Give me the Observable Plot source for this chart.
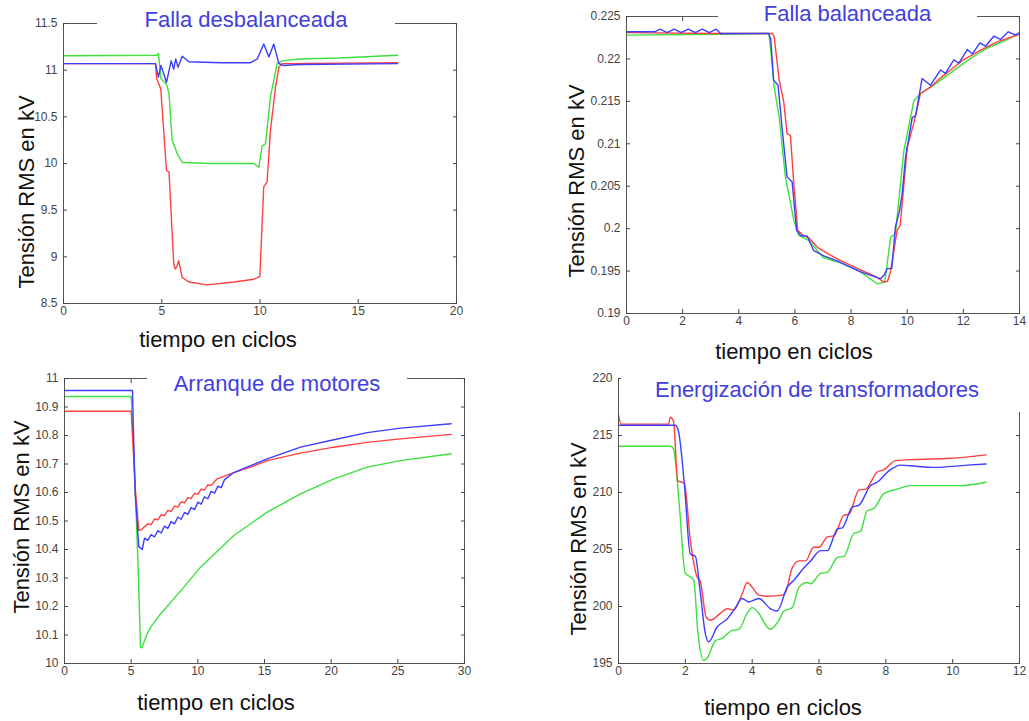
<!DOCTYPE html>
<html><head><meta charset="utf-8">
<script src="https://cdn.jsdelivr.net/npm/d3@7"></script>
<script src="https://cdn.jsdelivr.net/npm/@observablehq/plot@0.6"></script>
<style>
body{margin:0;background:#fff;}
#root{position:relative;width:1029px;height:721px;overflow:hidden;font-family:"Liberation Sans",Arial,sans-serif;background:#fff;}
.panel{position:absolute;}
.title{position:absolute;background:#fff;color:#4040dc;font-size:22px;text-align:center;white-space:nowrap;}
.xlab{position:absolute;font-size:22px;color:#111;transform:translate(-50%,-50%);white-space:nowrap;}
.ylab{position:absolute;font-size:22px;color:#111;transform:translate(-50%,-50%) rotate(-90deg);white-space:nowrap;}
</style></head><body><div id="root"></div>
<script>
// ---------- shared texts ----------
const xLabelText = "tiempo en ciclos";
const yLabelText = "Tensión RMS en kV";
const titles = ["Falla desbalanceada", "Falla balanceada", "Arranque de motores", "Energización de transformadores"];
const seriesColors = {green: "#3de03d", red: "#ff4040", blue: "#3d3dff"};

// ---------- panel 1: Falla desbalanceada ----------
const p1XTicks = [0, 5, 10, 15, 20];
const p1YTicks = [8.5, 9, 9.5, 10, 10.5, 11, 11.5];
const p1Green = [[0,11.155],[4.74,11.16],[4.83,11.18],[4.96,10.91],[5.24,10.85],[5.37,10.75],[5.53,10.25],[5.8,10.10],[6.04,10.01],[7.5,10.0],[9.69,10.0],[9.94,9.96],[10.11,10.19],[10.28,10.21],[10.53,10.71],[10.7,10.89],[10.87,11.07],[11.12,11.10],[12,11.12],[14,11.13],[17,11.16]];
const p1Red = [[0,11.07],[4.68,11.07],[4.74,10.91],[4.95,10.80],[5.15,10.2],[5.24,9.925],[5.37,9.91],[5.61,8.925],[5.69,8.87],[5.78,8.9],[5.86,8.96],[6.04,8.78],[6.38,8.73],[7.31,8.70],[8.67,8.73],[9.69,8.76],[9.99,8.79],[10.19,9.75],[10.36,9.80],[10.53,10.35],[10.79,10.82],[10.96,11.03],[11.12,11.07],[17,11.08]];
const p1Blue = [[0,11.07],[4.68,11.07],[4.83,10.925],[4.96,11.05],[5.24,10.87],[5.48,11.10],[5.61,11.01],[5.71,11.12],[5.83,11.03],[6.04,11.15],[6.38,11.09],[8,11.08],[9.52,11.08],[9.86,11.12],[10.19,11.28],[10.45,11.14],[10.7,11.28],[10.96,11.07],[11.2,11.05],[12,11.06],[17,11.07]];

// ---------- panel 2: Falla balanceada ----------
const p2XTicks = [0, 2, 4, 6, 8, 10, 12, 14];
const p2YTicks = [0.19, 0.195, 0.2, 0.205, 0.21, 0.215, 0.22, 0.225];
const p2Green = [[0,0.2228],[3.35,0.2229],[5.07,0.2230],[5.14,0.2210],[5.26,0.2167],[5.44,0.2131],[5.66,0.2061],[5.96,0.2010],[6.14,0.1992],[6.5,0.1986],[7.0,0.1966],[7.6,0.1960],[8.3,0.1950],[8.93,0.1935],[9.2,0.1937],[9.41,0.1990],[9.58,0.1994],[9.88,0.2092],[10.24,0.2151],[10.5,0.2160],[10.9,0.2168],[11.4,0.2180],[12.14,0.2198],[12.8,0.2212],[13.5,0.2222],[14,0.2230]];
const p2Red = [[0,0.2231],[3.35,0.2230],[5.2,0.2230],[5.26,0.2226],[5.44,0.2175],[5.6,0.2150],[5.72,0.2112],[5.84,0.2110],[5.96,0.2053],[6.1,0.1998],[6.3,0.1992],[6.5,0.1989],[6.8,0.1978],[7.2,0.1970],[7.6,0.1963],[8.3,0.1952],[8.9,0.1943],[9.17,0.1937],[9.3,0.1938],[9.41,0.1950],[9.64,0.1998],[9.75,0.2004],[9.85,0.2040],[10.0,0.2096],[10.24,0.2125],[10.47,0.2159],[10.83,0.2167],[11.2,0.2178],[12,0.2199],[12.6,0.2210],[13.2,0.2220],[14,0.2229]];
const p2Blue = [[0,0.2232],[1,0.2232],[1.2,0.2235],[1.45,0.2231],[1.7,0.2235],[1.95,0.2231],[2.2,0.2235],[2.45,0.2231],[2.7,0.2235],[2.95,0.2231],[3.2,0.2235],[3.35,0.2230],[5.07,0.2230],[5.14,0.2223],[5.24,0.2175],[5.4,0.2169],[5.55,0.2116],[5.72,0.2061],[5.9,0.2055],[6.06,0.1998],[6.2,0.1992],[6.44,0.1991],[6.67,0.1974],[7.03,0.1968],[7.5,0.1962],[8.34,0.1949],[9.05,0.1941],[9.17,0.1945],[9.29,0.1953],[9.45,0.1953],[9.58,0.2002],[9.72,0.2020],[9.82,0.2041],[9.94,0.2084],[10.18,0.2131],[10.3,0.2133],[10.53,0.2177],[10.83,0.2169],[11.19,0.2187],[11.36,0.2183],[11.66,0.2199],[11.84,0.2195],[12.14,0.2211],[12.32,0.2206],[12.59,0.2219],[12.79,0.2215],[13.09,0.2227],[13.32,0.2223],[13.6,0.2232],[13.86,0.2228],[14,0.2231]];

// ---------- panel 3: Arranque de motores ----------
const p3XTicks = [0, 5, 10, 15, 20, 25, 30];
const p3YTicks = [10, 10.1, 10.2, 10.3, 10.4, 10.5, 10.6, 10.7, 10.8, 10.9, 11];
const p3Green = [[0,10.937],[5.0,10.937],[5.1,10.85],[5.3,10.613],[5.52,10.344],[5.7,10.057],[5.8,10.055],[6.2,10.104],[6.45,10.127],[7.2,10.174],[7.7,10.20],[8.95,10.268],[10.2,10.338],[12.7,10.449],[15.2,10.531],[17.7,10.595],[20.2,10.648],[22.7,10.689],[25.2,10.712],[29,10.736]];
const p3Red = [[0,10.885],[5.0,10.885],[5.1,10.80],[5.3,10.62],[5.57,10.467],[5.8,10.47],[5.95,10.478],[6.25,10.49],[6.5,10.487],[6.75,10.507],[7.0,10.504],[7.25,10.522],[7.5,10.519],[7.75,10.537],[8.0,10.534],[8.25,10.552],[8.5,10.549],[8.75,10.567],[9.0,10.564],[9.25,10.582],[9.5,10.579],[9.75,10.597],[10.0,10.594],[10.25,10.612],[10.5,10.609],[10.75,10.627],[11.0,10.625],[11.45,10.648],[12.7,10.67],[13.95,10.689],[15.2,10.712],[17.7,10.738],[20.2,10.759],[22.7,10.776],[25.2,10.788],[29,10.804]];
const p3Blue = [[0,10.958],[5.1,10.958],[5.15,10.85],[5.3,10.60],[5.57,10.41],[5.83,10.40],[6.0,10.44],[6.25,10.432],[6.5,10.452],[6.75,10.444],[7.0,10.466],[7.25,10.458],[7.5,10.482],[7.75,10.474],[8.0,10.498],[8.25,10.49],[8.5,10.514],[8.75,10.506],[9.0,10.53],[9.25,10.523],[9.5,10.547],[9.75,10.54],[10.0,10.566],[10.25,10.559],[10.5,10.585],[10.75,10.578],[11.0,10.604],[11.25,10.598],[11.5,10.622],[11.75,10.617],[12.0,10.645],[12.7,10.67],[14,10.695],[15.2,10.718],[17.7,10.759],[20.2,10.785],[22.7,10.81],[25.2,10.826],[29,10.841]];

// ---------- panel 4: Energización de transformadores ----------
const p4XTicks = [0, 2, 4, 6, 8, 10, 12];
const p4YTicks = [195, 200, 205, 210, 215, 220];
const p4Green = [[0,214.06],[1.56,214.06],[1.65,213.8],[1.8,209.6],[2.0,202.9],[2.15,202.6],[2.25,202.3],[2.38,197.6],[2.55,195.26],[2.66,195.5],[2.9,197.0],[3.1,197.2],[3.4,197.9],[3.6,198.0],[3.85,199.4],[4.0,199.9],[4.2,199.4],[4.45,198.2],[4.55,198.0],[4.8,198.8],[4.95,199.6],[5.2,199.9],[5.4,201.7],[5.65,202.1],[5.75,202.0],[6.05,202.9],[6.25,203.0],[6.55,204.3],[6.75,204.4],[7.04,206.4],[7.24,206.6],[7.44,208.4],[7.64,208.6],[7.94,209.9],[8.34,210.3],[8.74,210.6],[9.5,210.6],[10.2,210.6],[11,210.9]];
const p4Red = [[0,216.8],[0.08,216.0],[1.5,216.0],[1.55,216.6],[1.65,216.2],[1.77,211.05],[1.97,210.8],[2.15,205.8],[2.35,202.6],[2.45,202.2],[2.62,199.1],[2.75,198.8],[3.05,199.4],[3.25,199.8],[3.45,199.7],[3.7,201.1],[3.85,202.1],[4.0,201.7],[4.2,201.0],[4.45,200.9],[4.9,201.0],[5.0,201.25],[5.2,203.4],[5.4,204.0],[5.6,204.0],[5.84,205.2],[6.0,205.2],[6.25,206.1],[6.45,206.2],[6.74,208.0],[6.9,208.1],[7.19,210.2],[7.4,210.3],[7.74,211.8],[7.94,212.0],[8.29,212.8],[8.94,212.9],[9.94,213.0],[11,213.3]];
const p4Blue = [[0,215.9],[1.7,215.9],[1.8,215.3],[1.97,210.76],[2.15,204.6],[2.3,204.4],[2.43,201.7],[2.6,197.6],[2.7,196.9],[2.95,198.2],[3.25,198.9],[3.5,199.9],[3.7,200.7],[3.9,200.4],[4.2,200.7],[4.55,199.8],[4.75,199.6],[5.05,201.7],[5.25,202.3],[5.55,203.4],[5.75,204.0],[6.05,204.9],[6.25,204.9],[6.55,206.8],[6.7,206.9],[6.99,208.7],[7.2,208.9],[7.54,210.6],[7.74,210.9],[8.09,211.9],[8.44,212.4],[8.9,212.3],[9.44,212.2],[10.43,212.4],[11,212.5]];

// ---------- builder ----------
const root = document.getElementById("root");
function toRows(arr) { return arr.map(([t, v]) => ({t, v})); }

function panel(cfg) {
  const lineOpts = {x: "t", y: "v", strokeWidth: 1.4, curve: cfg.curve};
  const svg = Plot.plot({
    width: cfg.w, height: cfg.h,
    marginLeft: cfg.ml, marginRight: cfg.mr, marginTop: cfg.mt, marginBottom: cfg.mb,
    x: {domain: cfg.xDomain},
    y: {domain: cfg.yDomain},
    style: {fontFamily: "'Liberation Sans', Arial, sans-serif", fontSize: "12px", background: "transparent", color: "#444"},
    marks: [
      Plot.line(toRows(cfg.green), {...lineOpts, stroke: seriesColors.green}),
      Plot.line(toRows(cfg.red), {...lineOpts, stroke: seriesColors.red}),
      Plot.line(toRows(cfg.blue), {...lineOpts, stroke: seriesColors.blue}),
      Plot.frame({stroke: "#555"}),
      Plot.axisX({anchor: "bottom", ticks: cfg.xTicks, tickSize: -4, tickPadding: 7, tickFormat: d => String(d), label: null, color: "#444"}),
      Plot.axisX({anchor: "top", ticks: cfg.xTicks, tickSize: -4, tickFormat: () => "", label: null, color: "#444"}),
      Plot.axisY({anchor: "left", ticks: cfg.yTicks, tickSize: -4, tickPadding: 10, tickFormat: d => String(d), label: null, color: "#444"}),
      Plot.axisY({anchor: "right", ticks: cfg.yTicks, tickSize: -4, tickFormat: () => "", label: null, color: "#444"})
    ]
  });
  const wrap = document.createElement("div");
  wrap.className = "panel";
  wrap.style.left = cfg.left + "px";
  wrap.style.top = cfg.top + "px";
  wrap.appendChild(svg);
  root.appendChild(wrap);

  const t = document.createElement("div");
  t.className = "title";
  t.textContent = cfg.title;
  Object.assign(t.style, cfg.titleBox);
  root.appendChild(t);

  const xl = document.createElement("div");
  xl.className = "xlab";
  xl.textContent = xLabelText;
  xl.style.left = cfg.xlab[0] + "px"; xl.style.top = cfg.xlab[1] + "px";
  root.appendChild(xl);

  const yl = document.createElement("div");
  yl.className = "ylab";
  yl.textContent = yLabelText;
  yl.style.left = cfg.ylab[0] + "px"; yl.style.top = cfg.ylab[1] + "px";
  root.appendChild(yl);
}

panel({left: 0, top: 0, w: 480, h: 330, ml: 63, mr: 24, mt: 23, mb: 27, curve: "linear",
  xDomain: [0, 20], yDomain: [8.5, 11.5], xTicks: p1XTicks, yTicks: p1YTicks,
  green: p1Green, red: p1Red, blue: p1Blue, title: titles[0],
  titleBox: {left: "97px", top: "8px", width: "298px", height: "24px", lineHeight: "24px"},
  xlab: [218, 340], ylab: [27, 192]});

panel({left: 540, top: 0, w: 489, h: 335, ml: 86, mr: 10, mt: 16, mb: 22, curve: "linear",
  xDomain: [0, 14], yDomain: [0.19, 0.225], xTicks: p2XTicks, yTicks: p2YTicks,
  green: p2Green, red: p2Red, blue: p2Blue, title: titles[1],
  titleBox: {left: "718px", top: "2px", width: "259px", height: "24px", lineHeight: "24px"},
  xlab: [794, 352], ylab: [577, 181]});

panel({left: 0, top: 360, w: 480, h: 325, ml: 64, mr: 16, mt: 18, mb: 22, curve: "linear",
  xDomain: [0, 30], yDomain: [10, 11], xTicks: p3XTicks, yTicks: p3YTicks,
  green: p3Green, red: p3Red, blue: p3Blue, title: titles[2],
  titleBox: {left: "147px", top: "372px", width: "260px", height: "24px", lineHeight: "24px"},
  xlab: [216, 703], ylab: [22, 517]});

panel({left: 540, top: 360, w: 489, h: 325, ml: 78, mr: 10, mt: 18, mb: 22, curve: "monotone-x",
  xDomain: [0, 12], yDomain: [195, 220], xTicks: p4XTicks, yTicks: p4YTicks,
  green: p4Green, red: p4Red, blue: p4Blue, title: titles[3],
  titleBox: {left: "621px", top: "368px", width: "392px", paddingRight: "12px", height: "44px", lineHeight: "44px"},
  xlab: [783, 708], ylab: [579, 539]});
</script>
</body></html>
